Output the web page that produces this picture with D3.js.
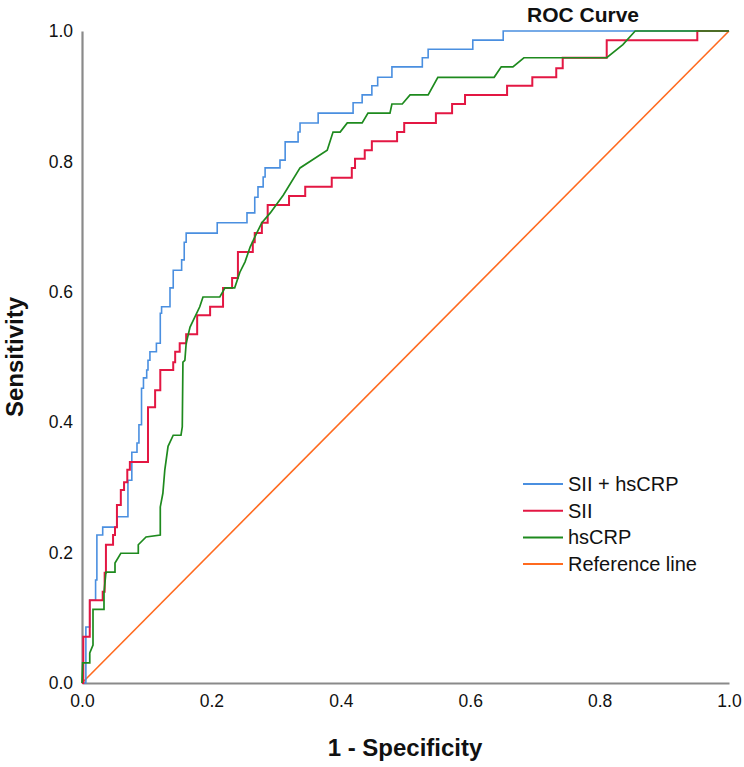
<!DOCTYPE html>
<html>
<head>
	<script src="https://cdn.jsdelivr.net/npm/d3@7"></script>
	<style>
		html, body {
			padding: 0;
			margin: 0;
			background: white;
		}
		text {
			font-family: "Liberation Sans", Arial, sans-serif;
			fill: #111;
		}
	</style>
</head>
<body>
	<div id="chart"></div>

	<script>
		// ROC points, [1 - specificity, sensitivity]
		// SII + hsCRP and SII are read as step corners (x of the rise, y after it)
		var combined = [[0,0],[0.006,0.086],[0.012,0.127],[0.021,0.158],[0.023,0.227],[0.032,0.239],
			[0.054,0.255],[0.071,0.311],[0.077,0.354],[0.085,0.368],[0.088,0.396],[0.092,0.452],
			[0.095,0.468],[0.100,0.480],[0.102,0.495],[0.105,0.508],[0.115,0.521],[0.121,0.567],
			[0.123,0.577],[0.136,0.606],[0.141,0.633],[0.154,0.649],[0.158,0.676],[0.161,0.690],
			[0.209,0.706],[0.255,0.721],[0.267,0.745],[0.272,0.761],[0.280,0.776],[0.283,0.790],
			[0.306,0.802],[0.314,0.830],[0.334,0.845],[0.337,0.859],[0.365,0.874],[0.419,0.890],
			[0.433,0.902],[0.448,0.916],[0.457,0.929],[0.479,0.945],[0.526,0.959],[0.535,0.972],
			[0.604,0.986],[0.651,1.0],[1,1]];

		var sii = [[0,0],[0.002,0.071],[0.012,0.127],[0.032,0.140],[0.035,0.169],[0.037,0.212],
			[0.048,0.227],[0.051,0.239],[0.054,0.273],[0.060,0.296],[0.065,0.308],[0.070,0.327],
			[0.074,0.339],[0.102,0.423],[0.113,0.449],[0.121,0.480],[0.141,0.492],[0.144,0.508],
			[0.151,0.521],[0.161,0.535],[0.178,0.564],[0.198,0.577],[0.218,0.606],[0.232,0.621],
			[0.241,0.661],[0.264,0.676],[0.267,0.690],[0.278,0.706],[0.287,0.733],[0.320,0.747],
			[0.345,0.761],[0.386,0.775],[0.417,0.790],[0.422,0.804],[0.437,0.817],[0.448,0.831],
			[0.487,0.845],[0.498,0.859],[0.547,0.874],[0.572,0.888],[0.592,0.902],[0.657,0.916],
			[0.696,0.929],[0.733,0.943],[0.743,0.959],[0.811,0.986],[0.951,1.0],[1,1]];

		// hsCRP has tied values, so it is kept as plain vertices
		var hscrp = [[0,0],[0.001,0.031],[0.012,0.031],[0.012,0.046],[0.017,0.058],[0.017,0.113],
			[0.034,0.113],[0.034,0.138],[0.037,0.170],[0.051,0.170],[0.051,0.184],[0.060,0.199],
			[0.087,0.199],[0.087,0.212],[0.099,0.224],[0.121,0.227],[0.121,0.270],[0.125,0.291],
			[0.128,0.327],[0.133,0.363],[0.141,0.380],[0.153,0.380],[0.155,0.393],[0.156,0.492],
			[0.159,0.495],[0.161,0.521],[0.167,0.546],[0.182,0.577],[0.187,0.592],[0.213,0.592],
			[0.221,0.606],[0.236,0.606],[0.244,0.630],[0.252,0.646],[0.260,0.669],[0.270,0.690],
			[0.278,0.706],[0.291,0.721],[0.311,0.748],[0.337,0.790],[0.379,0.817],[0.388,0.845],
			[0.399,0.845],[0.410,0.859],[0.433,0.859],[0.442,0.874],[0.476,0.874],[0.479,0.888],
			[0.495,0.888],[0.507,0.902],[0.535,0.902],[0.550,0.929],[0.637,0.929],[0.648,0.945],
			[0.666,0.945],[0.683,0.959],[0.811,0.959],[0.836,0.979],[0.855,1.0],[1,1]];

		var reference = [[0,0],[1,1]];

		var ticks = [0, 0.2, 0.4, 0.6, 0.8, 1.0];
		var legendNames = ["SII + hsCRP", "SII", "hsCRP", "Reference line"];

		var width = 744, height = 767;
		var svg = d3.select('#chart').append('svg')
			.attr('width', width)
			.attr('height', height);

		var x = d3.scaleLinear().domain([0, 1]).range([82, 729]);
		var y = d3.scaleLinear().domain([0, 1]).range([683, 31]);

		var series = [
			{name: legendNames[3], data: reference, color: "#ff6a1f", w: 1.6, curve: d3.curveLinear},
			{name: legendNames[0], data: combined, color: "#4a8fe0", w: 1.6, curve: d3.curveStepAfter},
			{name: legendNames[1], data: sii, color: "#e31743", w: 2, curve: d3.curveStepAfter},
			{name: legendNames[2], data: hscrp, color: "#1e8a1e", w: 1.7, curve: d3.curveLinear}
		];

		//axes, no tick marks, gray lines
		var xAxis = svg.append('g')
			.attr('transform', 'translate(0,' + y(0) + ')')
			.call(d3.axisBottom(x).tickValues(ticks).tickFormat(d3.format('.1f'))
				.tickSize(0).tickPadding(12));
		var yAxis = svg.append('g')
			.attr('transform', 'translate(' + x(0) + ',0)')
			.call(d3.axisLeft(y).tickValues(ticks).tickFormat(d3.format('.1f'))
				.tickSize(0).tickPadding(9));

		svg.selectAll('.domain')
			.attr('stroke', '#8a8a8a')
			.attr('stroke-width', 2.2);
		svg.selectAll('.tick text')
			.style('font-family', '"Liberation Sans", Arial, sans-serif')
			.style('font-size', '17.5px')
			.attr('fill', '#111');

		var line = function(s) {
			return d3.line()
				.x(function(d) { return x(d[0]); })
				.y(function(d) { return y(d[1]); })
				.curve(s.curve)(s.data);
		};

		svg.selectAll('path.roc')
			.data(series)
			.enter().append('path')
			.attr('class', 'roc')
			.attr('d', line)
			.attr('fill', 'none')
			.attr('stroke', function(d) { return d.color; })
			.attr('stroke-width', function(d) { return d.w; });

		//titles
		svg.append('text')
			.attr('x', 583).attr('y', 22)
			.attr('text-anchor', 'middle')
			.style('font-size', '21px').style('font-weight', 'bold')
			.text('ROC Curve');

		svg.append('text')
			.attr('x', 405).attr('y', 756)
			.attr('text-anchor', 'middle')
			.style('font-size', '24px').style('font-weight', 'bold')
			.text('1 - Specificity');

		svg.append('text')
			.attr('transform', 'translate(23,357) rotate(-90)')
			.attr('text-anchor', 'middle')
			.style('font-size', '24px').style('font-weight', 'bold')
			.text('Sensitivity');

		//legend
		var order = [1, 2, 3, 0];
		var legend = svg.selectAll('g.legend')
			.data(order.map(function(i) { return series[i]; }))
			.enter().append('g')
			.attr('class', 'legend')
			.attr('transform', function(d, i) { return 'translate(523,' + (484 + i * 26.7) + ')'; });

		legend.append('line')
			.attr('x1', 0).attr('x2', 40)
			.attr('stroke', function(d) { return d.color; })
			.attr('stroke-width', 2);

		legend.append('text')
			.attr('x', 45).attr('y', 7)
			.style('font-size', '20px')
			.text(function(d) { return d.name; });
	</script>
</body>
</html>
